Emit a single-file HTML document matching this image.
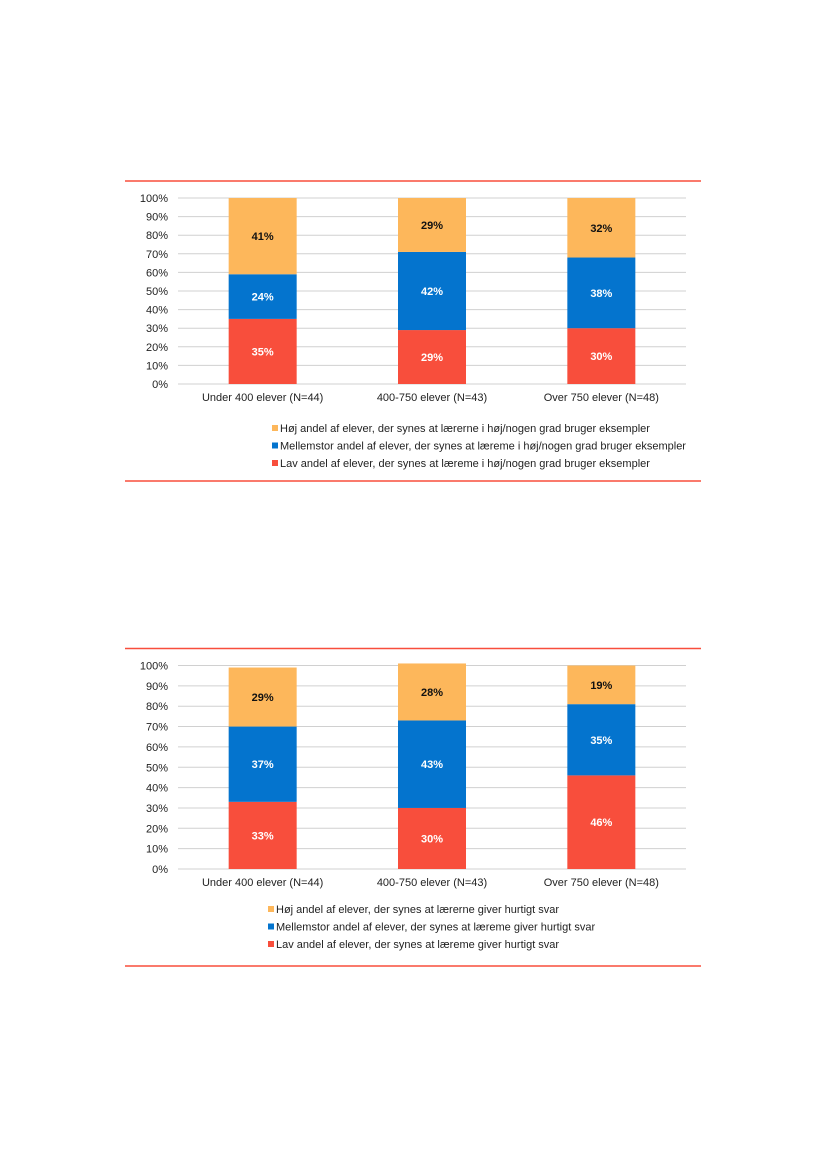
<!DOCTYPE html>
<html><head><meta charset="utf-8"><style>
html,body{margin:0;padding:0;background:#fff;width:827px;height:1169px;overflow:hidden}
svg{display:block;font-family:"Liberation Sans",Arial,sans-serif}
</style></head><body>
<svg id="s" width="827" height="1169"></svg>
<script>
const categories = ["Under 400 elever (N=44)", "400-750 elever (N=43)", "Over 750 elever (N=48)"];
const ticks = ["0%","10%","20%","30%","40%","50%","60%","70%","80%","90%","100%"];
const chart1Low = [35, 29, 30];
const chart1Mid = [24, 42, 38];
const chart1High = [41, 29, 32];
const chart1Legend = ["Høj andel af elever, der synes at lærerne i høj/nogen grad bruger eksempler","Mellemstor andel af elever, der synes at læreme i høj/nogen grad bruger eksempler","Lav andel af elever, der synes at læreme i høj/nogen grad bruger eksempler"];
const chart2Low = [33, 30, 46];
const chart2Mid = [37, 43, 35];
const chart2High = [29, 28, 19];
const chart2Legend = ["Høj andel af elever, der synes at lærerne giver hurtigt svar","Mellemstor andel af elever, der synes at læreme giver hurtigt svar","Lav andel af elever, der synes at læreme giver hurtigt svar"];
const colors = ["#F84E3C","#0474CE","#FDB75B"];
const NS="http://www.w3.org/2000/svg";
const svg=document.getElementById('s');
function mk(tag,attrs,parent){const e=document.createElementNS(NS,tag);for(const k in attrs)e.setAttribute(k,attrs[k]);(parent||svg).appendChild(e);return e;}
function chart(id,topLine,y100,y0,catY,legY,legX,bottomLine,low,mid,high,legend){
  const g=mk('g',{});
  
  
  const l1=mk('line',{x1:125,x2:701,y1:topLine,y2:topLine,stroke:'#F84E3C','stroke-width':1.5},g);
  
  
  const l2=mk('line',{x1:125,x2:701,y1:bottomLine,y2:bottomLine,stroke:'#F84E3C','stroke-width':1.5},g);
  
  
  const yS=v=>y0-(y0-y100)*v/100;
  const x0=178,x1=686,bw=68,step=(x1-x0)/categories.length;
  ticks.forEach((t,i)=>{
    const y=yS(i*10);
    const gl=mk('line',{x1:x0,x2:x1,y1:y,y2:y,stroke:'#d0d0d0','stroke-width':1},g);
    
    
    const tx=mk('text',{x:168,y:y+4,'text-anchor':'end','font-size':11,fill:'#222'},g);
    tx.textContent=t;
    
    
  });
  categories.forEach((c,i)=>{
    const cx=x0+step*(i+0.5);
    const segs=[low[i],mid[i],high[i]];
    let acc=0;
    segs.forEach((v,j)=>{
      const yt=yS(acc+v),yb=yS(acc);
      const r=mk('rect',{x:cx-bw/2,y:yt,width:bw,height:yb-yt,fill:colors[j]},g);
      
      
      const tl=mk('text',{x:cx,y:(yt+yb)/2+4,'text-anchor':'middle','font-size':11,'font-weight':'bold',fill:j==2?'#111':'#fff'},g);
      tl.textContent=v+'%';
      
      
      acc+=v;
    });
    const ct=mk('text',{x:cx,y:catY,'text-anchor':'middle','font-size':11,fill:'#222'},g);
    ct.textContent=c;
    
    
  });
  legend.forEach((t,i)=>{
    const y=legY+i*17.5;
    const sq=mk('rect',{x:legX,y:y-7,width:6,height:6,fill:colors[2-i]},g);
    
    
    const lt=mk('text',{x:legX+8,y:y,'font-size':11,fill:'#222'},g);
    lt.textContent=t;
    
    
  });
}
chart('chart-eksempler',181,198,384,401,432,272,481,chart1Low,chart1Mid,chart1High,chart1Legend);
chart('chart-hurtigt-svar',648.5,665.5,869,886,913,268,966,chart2Low,chart2Mid,chart2High,chart2Legend);
</script>
</body></html>
